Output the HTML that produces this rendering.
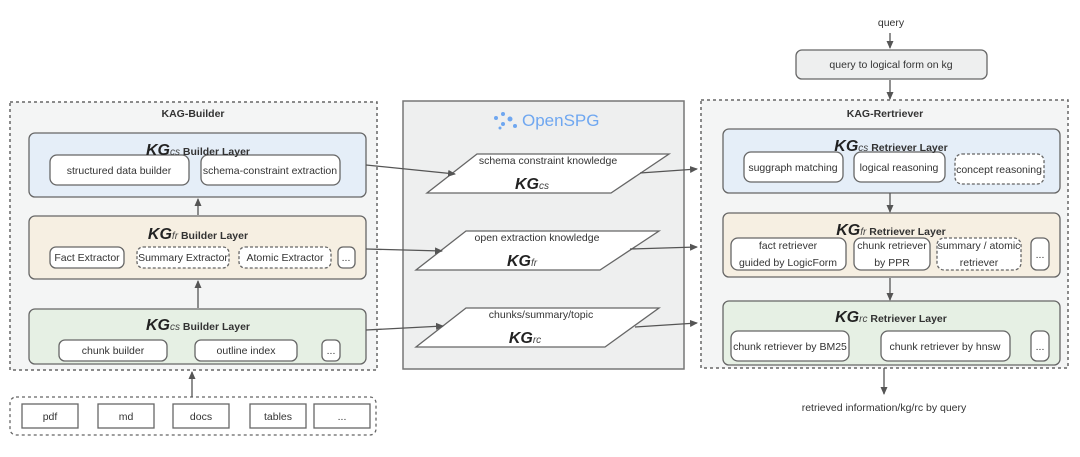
<!DOCTYPE html>
<html><head><meta charset="utf-8"><style>
html,body{margin:0;padding:0;background:#fff;}
svg{display:block;font-family:"Liberation Sans",sans-serif;}
.t{font-size:10.5px;fill:#333;text-anchor:middle;}
.h{font-size:10.5px;font-weight:bold;fill:#333;text-anchor:middle;}
.kg{font-size:16px;font-weight:bold;font-style:italic;fill:#222;}
.sub{font-size:10px;font-style:italic;font-weight:normal;fill:#444;}
</style></head><body>
<svg width="1080" height="457" viewBox="0 0 1080 457">
<defs><marker id="a" markerWidth="8" markerHeight="8" refX="7" refY="4" orient="auto" markerUnits="userSpaceOnUse"><path d="M0,0.5 L8,4 L0,7.5 z" fill="#555"/></marker></defs>
<g stroke="#666" stroke-width="1.5" fill="none">
<rect x="10" y="102" width="367" height="268" fill="#f4f5f5" stroke-dasharray="3,3"/>
</g>
<text x="193" y="117" class="h">KAG-Builder</text>
<g stroke="#666" stroke-width="1.3">
<rect x="29" y="133" width="337" height="64" rx="6" fill="#e5eef8"/>
<rect x="29" y="216" width="337" height="63" rx="6" fill="#f6efe2"/>
<rect x="29" y="309" width="337" height="55" rx="6" fill="#e6f0e4"/>
<rect x="50" y="155" width="139" height="30" rx="7" fill="#fff"/>
<rect x="201" y="155" width="139" height="30" rx="7" fill="#fff"/>
<rect x="50" y="247" width="74" height="21" rx="6" fill="#fff"/>
<rect x="137" y="247" width="92" height="21" rx="6" fill="#fff" stroke-dasharray="3,2"/>
<rect x="239" y="247" width="92" height="21" rx="6" fill="#fff" stroke-dasharray="3,2"/>
<rect x="338" y="247" width="17" height="21" rx="5" fill="#fff"/>
<rect x="59" y="340" width="108" height="21" rx="6" fill="#fff"/>
<rect x="195" y="340" width="102" height="21" rx="6" fill="#fff"/>
<rect x="322" y="340" width="18" height="21" rx="5" fill="#fff"/>
<rect x="10" y="397" width="366" height="38" rx="6" fill="#fff" stroke-dasharray="3,3"/>
<rect x="22" y="404" width="56" height="24" fill="#fff"/>
<rect x="98" y="404" width="56" height="24" fill="#fff"/>
<rect x="173" y="404" width="56" height="24" fill="#fff"/>
<rect x="250" y="404" width="56" height="24" fill="#fff"/>
<rect x="314" y="404" width="56" height="24" fill="#fff"/>
</g>
<text x="198" y="155" class="h"><tspan class="kg">KG</tspan><tspan class="sub">cs</tspan> Builder Layer</text>
<text x="119" y="174" class="t">structured data builder</text>
<text x="270" y="174" class="t">schema-constraint extraction</text>
<text x="198" y="239" class="h"><tspan class="kg">KG</tspan><tspan class="sub">fr</tspan> Builder Layer</text>
<text x="87" y="261" class="t">Fact Extractor</text>
<text x="183" y="261" class="t">Summary Extractor</text>
<text x="285" y="261" class="t">Atomic Extractor</text>
<text x="346" y="261" class="t">...</text>
<text x="198" y="330" class="h"><tspan class="kg">KG</tspan><tspan class="sub">cs</tspan> Builder Layer</text>
<text x="113" y="354" class="t">chunk builder</text>
<text x="246" y="354" class="t">outline index</text>
<text x="331" y="354" class="t">...</text>
<text x="50" y="420" class="t">pdf</text>
<text x="126" y="420" class="t">md</text>
<text x="201" y="420" class="t">docs</text>
<text x="278" y="420" class="t">tables</text>
<text x="342" y="420" class="t">...</text>
<rect x="403" y="101" width="281" height="268" fill="#eeefef" stroke="#777" stroke-width="1.5"/>
<g fill="#6fa7f0"><circle cx="496" cy="118" r="2"/><circle cx="503" cy="114" r="2"/><circle cx="503" cy="124" r="2"/><circle cx="510" cy="119" r="2.5"/><circle cx="515" cy="126" r="2"/><circle cx="500" cy="128" r="1.5"/></g>
<text x="522" y="126" style="font-size:17px;fill:#6fa7f0">OpenSPG</text>
<g stroke="#666" stroke-width="1.3" fill="#fff">
<polygon points="477,154 669,154 611,193 427,193"/>
<polygon points="466,231 659,231 600,270 416,270"/>
<polygon points="466,308 659,308 605,347 416,347"/>
</g>
<text x="548" y="164" class="t">schema constraint knowledge</text>
<text x="532" y="189" class="h"><tspan class="kg">KG</tspan><tspan class="sub">cs</tspan></text>
<text x="537" y="241" class="t">open extraction knowledge</text>
<text x="522" y="266" class="h"><tspan class="kg">KG</tspan><tspan class="sub">fr</tspan></text>
<text x="541" y="318" class="t">chunks/summary/topic</text>
<text x="525" y="343" class="h"><tspan class="kg">KG</tspan><tspan class="sub">rc</tspan></text>
<rect x="701" y="100" width="367" height="268" fill="#f4f5f5" stroke="#666" stroke-width="1.5" stroke-dasharray="3,3"/>
<text x="885" y="117" class="h">KAG-Rertriever</text>
<g stroke="#666" stroke-width="1.3">
<rect x="723" y="129" width="337" height="64" rx="6" fill="#e5eef8"/>
<rect x="723" y="213" width="337" height="64" rx="6" fill="#f6efe2"/>
<rect x="723" y="301" width="337" height="64" rx="6" fill="#e6f0e4"/>
<rect x="744" y="152" width="99" height="30" rx="7" fill="#fff"/>
<rect x="854" y="152" width="91" height="30" rx="7" fill="#fff"/>
<rect x="955" y="154" width="89" height="30" rx="7" fill="#fff" stroke-dasharray="3,2"/>
<rect x="731" y="238" width="115" height="32" rx="7" fill="#fff"/>
<rect x="854" y="238" width="76" height="32" rx="7" fill="#fff"/>
<rect x="937" y="238" width="84" height="32" rx="7" fill="#fff" stroke-dasharray="3,2"/>
<rect x="1031" y="238" width="18" height="32" rx="6" fill="#fff"/>
<rect x="731" y="331" width="118" height="30" rx="7" fill="#fff"/>
<rect x="881" y="331" width="129" height="30" rx="7" fill="#fff"/>
<rect x="1031" y="331" width="18" height="30" rx="6" fill="#fff"/>
<rect x="796" y="50" width="191" height="29" rx="6" fill="#eeefef"/>
</g>
<text x="891" y="151" class="h"><tspan class="kg">KG</tspan><tspan class="sub">cs</tspan> Retriever Layer</text>
<text x="793" y="171" class="t">suggraph matching</text>
<text x="899" y="171" class="t">logical reasoning</text>
<text x="999" y="173" class="t">concept reasoning</text>
<text x="891" y="235" class="h"><tspan class="kg">KG</tspan><tspan class="sub">fr</tspan> Retriever Layer</text>
<text x="788" y="249" class="t">fact retriever</text>
<text x="788" y="266" class="t">guided by LogicForm</text>
<text x="892" y="249" class="t">chunk retriever</text>
<text x="892" y="266" class="t">by PPR</text>
<text x="979" y="249" class="t">summary / atomic</text>
<text x="979" y="266" class="t">retriever</text>
<text x="1040" y="258" class="t">...</text>
<text x="891" y="322" class="h"><tspan class="kg">KG</tspan><tspan class="sub">rc</tspan> Retriever Layer</text>
<text x="790" y="350" class="t">chunk retriever by BM25</text>
<text x="945" y="350" class="t">chunk retriever by hnsw</text>
<text x="1040" y="350" class="t">...</text>
<text x="891" y="26" class="t">query</text>
<text x="891" y="68" class="t">query to logical form on kg</text>
<text x="884" y="411" class="t">retrieved information/kg/rc by query</text>
<g stroke="#555" stroke-width="1.3" fill="none" marker-end="url(#a)">
<line x1="192" y1="397" x2="192" y2="372"/>
<line x1="198" y1="308" x2="198" y2="281"/>
<line x1="198" y1="215" x2="198" y2="199"/>
<line x1="366" y1="165" x2="455" y2="174"/>
<line x1="366" y1="249" x2="442" y2="251"/>
<line x1="366" y1="330" x2="443" y2="326"/>
<line x1="640" y1="173" x2="697" y2="169"/>
<line x1="630" y1="249" x2="697" y2="247"/>
<line x1="635" y1="327" x2="697" y2="323"/>
<line x1="890" y1="33" x2="890" y2="48"/>
<line x1="890" y1="80" x2="890" y2="99"/>
<line x1="890" y1="193" x2="890" y2="212"/>
<line x1="890" y1="278" x2="890" y2="300"/>
<line x1="884" y1="368" x2="884" y2="394"/>
</g>
</svg>
</body></html>
